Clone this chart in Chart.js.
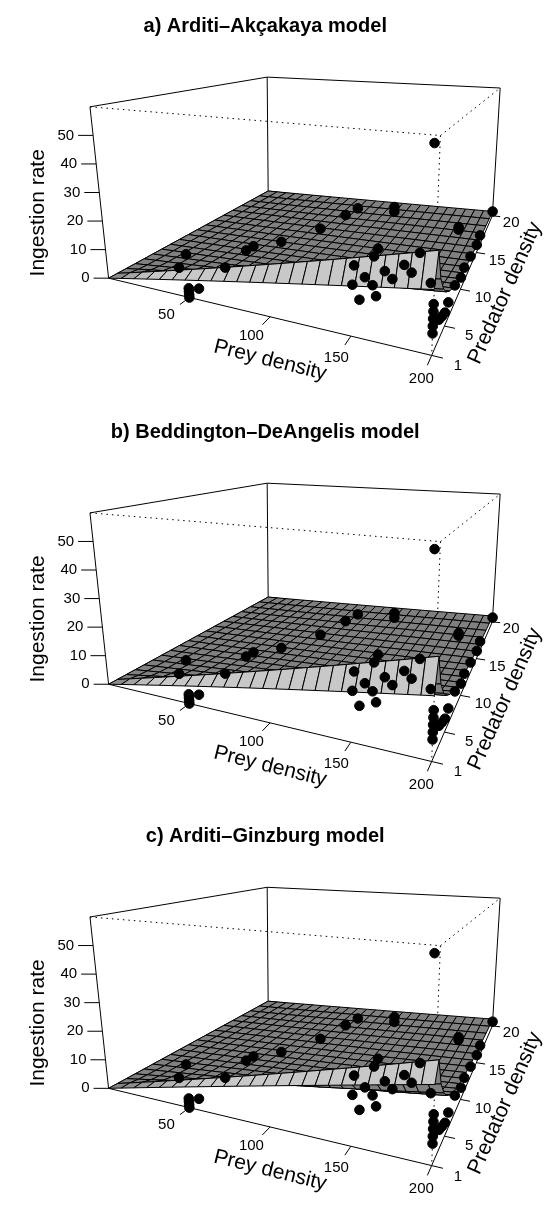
<!DOCTYPE html>
<html><head><meta charset="utf-8">
<script src="https://cdn.jsdelivr.net/npm/chart.js@4/dist/chart.umd.min.js"></script>
<style>html,body{margin:0;padding:0;background:#fff}canvas{display:block}</style>
</head><body>
<canvas id="c" width="551" height="1212"></canvas>
<script>
// ---- data ----
const titles = ["a) Arditi\u2013Akçakaya model", "b) Beddington\u2013DeAngelis model", "c) Arditi\u2013Ginzburg model"];
const preyTicks = [50, 100, 150, 200];
const predTicks = [1, 5, 10, 15, 20];
const rateTicks = [0, 10, 20, 30, 40, 50];
// observations: prey density, predator density, ingestion rate
const obsPrey = [50,50,50,50,55, 200,200,200,200,200, 155,
  200,200,200,200,200,200,200,200,200,200,200,
  150,155,160,165,170,175,160,145,150,140,
  185,190,170, 40,40,60,65,70,80,90,100,105,130,130,140,185, 195];
const obsPred = [1,1,1,1,1.3, 1,1,1,1,1, 1,
  3,4,5,6,8,10,11,13,15,16,20,
  4,4,5,5,6,6,3,3,6,5,
  15,5,10, 3,2,4,6,6,8,12,14,15,16,16,10,15, 2];
const obsRate = [0,1,2,3,3, 6,8,10,12,14, 11,
  6,5,4,5,6,4,5,4,3,4,2,
  12,10,13,11,14,12,9,11,15,13,
  8,12,10, 10,7,6,9,11,10,8,10,11,11,9,9,9, 57];
// fitted model parameters (a, h, interference) and front-row value factor
const modelA = [0.374, 0.407, 0.326];
const modelH = [0.005, 0.005, 0.005];
const modelM = [1.2, 1.5, 1];
const frontFactor = [0.33, 0.31, 0.45];
const panelOffset = [0, 410, 818];

// ---- geometry ----
const XMAX = 200, YMIN = 1, YMAX = 20, ZMAX = 60;
const C = {
  '000':[105,275],'100':[435,353],'010':[268,187],'110':[497,212],
  '001':[86,102],'101':[444,131],'011':[267,72],'111':[505,83]};
function P(u,v,w,off){
  let x=0,y=0;
  for(const a of [0,1])for(const b of [0,1])for(const c of [0,1]){
    const wt=(a?u:1-u)*(b?v:1-v)*(c?w:1-w);
    const p=C[''+a+b+c]; x+=wt*p[0]; y+=wt*p[1];
  }
  return [x,y+off];
}
function proj(x,y,z,off){return P(x/XMAX,(y-YMIN)/(YMAX-YMIN),z/ZMAX,off);}
function model(k,x,y){
  const a=modelA[k],h=modelH[k],m=modelM[k];
  let f;
  if(k===0) f=a*x/(Math.pow(y,m)+a*h*x);
  else if(k===1) f=a*x/(1+a*h*x+m*(y-1));
  else { const r=x/y; f=a*r/(1+a*h*r); }
  return y<1.5 ? f*frontFactor[k] : f;
}

const pointData=[];
for(let k=0;k<3;k++)for(let i=0;i<obsPrey.length;i++){
  const p=proj(obsPrey[i],obsPred[i],obsRate[i],panelOffset[k]);
  pointData.push({x:p[0],y:p[1]});
}

const NU=25, NV=18;
const surfacePlugin={id:'surf',
  beforeDatasetsDraw(chart){
    const ctx=chart.ctx, sx=chart.scales.x, sy=chart.scales.y;
    const T=p=>[sx.getPixelForValue(p[0]),sy.getPixelForValue(p[1])];
    const font='"Liberation Sans", Arial, sans-serif';
    function line(a,b,dash){ctx.beginPath();ctx.setLineDash(dash?[1.5,4]:[]);
      const A=T(a),B=T(b);ctx.moveTo(A[0],A[1]);ctx.lineTo(B[0],B[1]);ctx.stroke();}
    for(let k=0;k<3;k++){
      const off=panelOffset[k];
      const Q=(u,v,w)=>P(u,v,w,off);
      ctx.save();
      ctx.fillStyle='#000';ctx.textAlign='center';ctx.textBaseline='middle';
      ctx.font='bold 20px '+font;
      const tt=T([265,21+off]);ctx.fillText(titles[k],tt[0],tt[1]);
      ctx.strokeStyle='#000';ctx.lineWidth=1;
      line(Q(0,0,0),Q(1,0,0));line(Q(1,0,0),Q(1,1,0));line(Q(0,0,0),Q(0,0,1));
      line(Q(0,0,1),Q(0,1,1));line(Q(0,1,1),Q(1,1,1));line(Q(0,1,1),Q(0,1,0));
      line(Q(1,1,1),Q(1,1,0));line(Q(0,0,0),Q(0,1,0));line(Q(0,1,0),Q(1,1,0));
      line(Q(0,0,1),Q(1,0,1),true);line(Q(1,0,1),Q(1,1,1),true);line(Q(1,0,1),Q(1,0,0),true);
      ctx.setLineDash([]);
      const z=(i,j)=>Math.min(model(k,XMAX*i/NU,YMIN+(YMAX-YMIN)*j/NV),ZMAX)/ZMAX;
      ctx.lineWidth=1;
      for(let j=NV-1;j>=0;j--)for(let i=0;i<NU;i++){
        const w00=z(i,j),w10=z(i+1,j),w01=z(i,j+1),w11=z(i+1,j+1);
        const dv=((w01+w11)-(w00+w10))/2*NV;
        const t=Math.max(0,Math.min(1,dv*4));
        const g=Math.round(128+t*(200-128));
        const pts=[Q(i/NU,j/NV,w00),Q((i+1)/NU,j/NV,w10),Q((i+1)/NU,(j+1)/NV,w11),Q(i/NU,(j+1)/NV,w01)].map(T);
        ctx.beginPath();ctx.moveTo(pts[0][0],pts[0][1]);
        for(let q=1;q<4;q++)ctx.lineTo(pts[q][0],pts[q][1]);ctx.closePath();
        ctx.fillStyle=`rgb(${g},${g},${g})`;ctx.fill();ctx.strokeStyle='#000';ctx.stroke();
      }
      ctx.fillStyle='#000';
      ctx.font='15px '+font;
      for(const t of preyTicks){const u=t/XMAX;line(Q(u,0,0),Q(u,-0.07,0));
        const L=T(Q(u,-0.17,0));ctx.fillText(String(t),L[0],L[1]);}
      for(const t of predTicks){const v=(t-YMIN)/(YMAX-YMIN);line(Q(1,v,0),Q(1.035,v,0));
        const L=T(Q(1.075,v,0));ctx.fillText(String(t),L[0]+2,L[1]+5);}
      ctx.textAlign='right';
      for(const t of rateTicks){const e=T(Q(0,0,t/ZMAX));
        ctx.beginPath();ctx.moveTo(e[0]-15,e[1]);ctx.lineTo(e[0],e[1]);ctx.stroke();
        ctx.fillText(String(t),e[0]-19,e[1]);}
      ctx.textAlign='center';ctx.font='21px '+font;
      let c=T([33,209+off]);ctx.save();ctx.translate(c[0],c[1]);ctx.rotate(-Math.PI/2);ctx.fillText('Ingestion rate',0,0);ctx.restore();
      c=T([270,358+off]);ctx.save();ctx.translate(c[0],c[1]);ctx.rotate(14*Math.PI/180);ctx.fillText('Prey density',0,0);ctx.restore();
      c=T([510,290+off]);ctx.save();ctx.translate(c[0],c[1]);ctx.rotate(-66*Math.PI/180);ctx.fillText('Predator density',0,0);ctx.restore();
      ctx.restore();
    }
  }};

new Chart(document.getElementById('c'),{
  type:'scatter',
  data:{datasets:[{data:pointData,backgroundColor:'#000',borderColor:'#000',pointRadius:4.8,pointHoverRadius:4.8}]},
  options:{responsive:false,animation:false,devicePixelRatio:1,
    layout:{padding:0},
    plugins:{legend:{display:false},tooltip:{enabled:false}},
    scales:{x:{type:'linear',min:0,max:551,display:false},
            y:{type:'linear',min:0,max:1212,reverse:true,display:false}}},
  plugins:[surfacePlugin]
});
</script>
</body></html>
